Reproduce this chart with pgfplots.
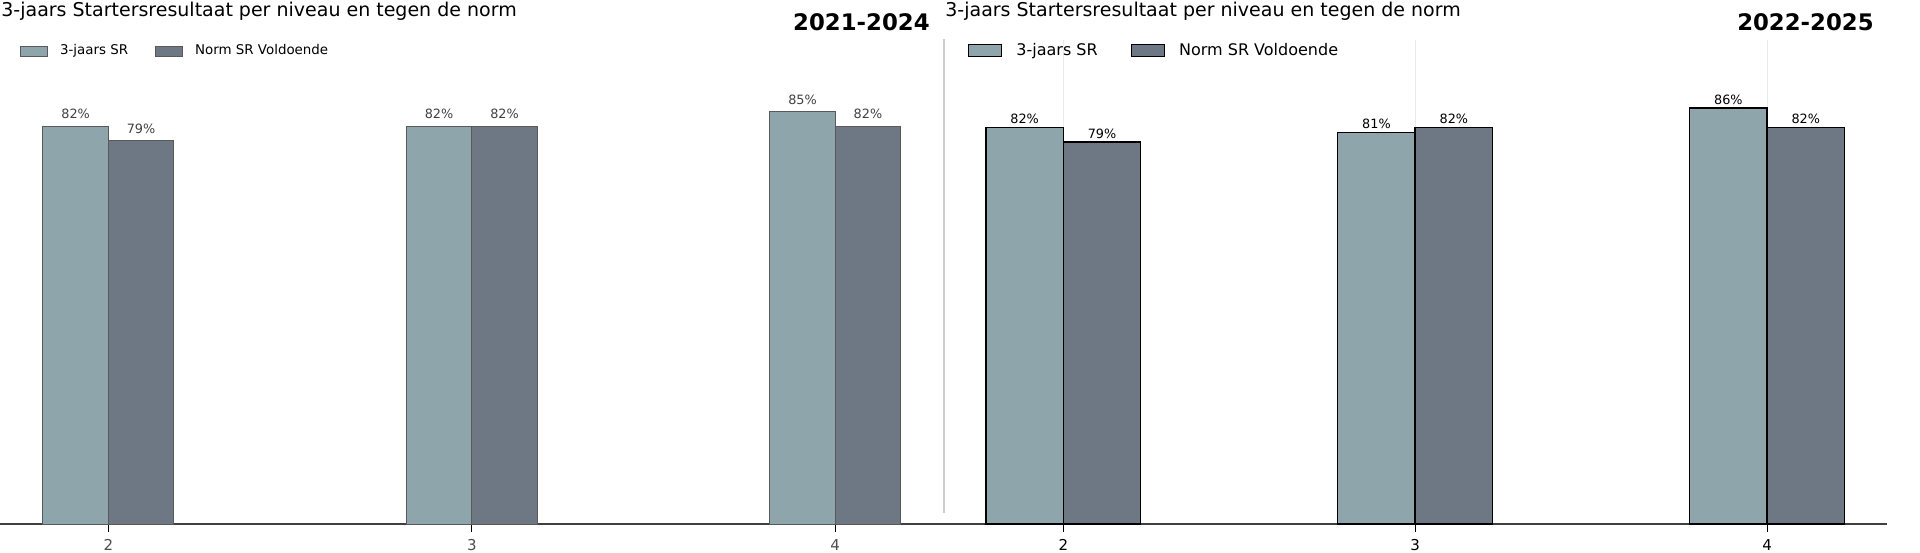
\documentclass[border=0pt]{standalone}
\usepackage{fontspec}
\setmainfont{DejaVu Sans}
\usepackage{pgfplots}
\pgfplotsset{compat=1.18}
\definecolor{srlight}{HTML}{8FA5AC}
\definecolor{srdark}{HTML}{6E7884}
\pgfplotsset{
  legL/.style={legend image code/.code={\draw[##1] (0pt,-2.5pt) rectangle (13.5pt,2.5pt);}},
  legR/.style={legend image code/.code={\draw[##1] (0pt,-3pt) rectangle (16.5pt,3pt);}},
}

\begin{document}
\begin{tikzpicture}
\path[use as bounding box] (0,0) rectangle (960pt,276pt);

\begin{axis}[
  at={(0pt,14pt)}, anchor=south west, scale only axis,
  width=472pt, height=242.5pt,
  xmin=1.702, xmax=4.2993, ymin=0, ymax=100,
  clip=false,
  axis x line*=bottom, axis y line=none,
  ybar, bar width=0.18,
  xtick={2,3,4},
  tick align=outside, major tick length=4pt,
  xtick style={black, line width=0.5pt},
  axis line style={black!75, line width=0.7pt},
  xticklabel style={font=\fontsize{7.5}{9}\selectfont, text=black!70},
  /pgf/number format/assume math mode=true,
  nodes near coords={\pgfmathprintnumber{\pgfplotspointmeta}\%},
  every node near coord/.append style={anchor=center, yshift=6.2pt, font=\fontsize{6.4}{7.7}\selectfont, text=black!75},
  legend style={at={(0.0212,0.9745)}, anchor=west, draw=none, fill=none, inner sep=0pt, outer sep=0pt,
    legend columns=2, font=\fontsize{6.7}{8}\selectfont, text=black, nodes={inner sep=0pt},
    /tikz/every odd column/.append style={column sep=6pt},
    /tikz/every even column/.append style={column sep=13.5pt}},
]
\addplot[fill=srlight, draw=black!65, line width=0.5pt, bar shift=-0.09, legL]
  coordinates {(2,82) (3,82) (4,85)};
\addplot[fill=srdark, draw=black!65, line width=0.5pt, bar shift=0.09, legL]
  coordinates {(2,79) (3,82) (4,82)};
\legend{3-jaars SR, Norm SR Voldoende}
\end{axis}

\begin{axis}[
  at={(472pt,14pt)}, anchor=south west, scale only axis,
  width=471.5pt, height=241.75pt,
  xmin=1.661, xmax=4.341, ymin=0, ymax=100,
  clip=false,
  axis x line*=bottom, axis y line=none,
  ybar, bar width=0.22,
  xtick={2,3,4},
  xmajorgrids, grid style={color=black!8, line width=0.5pt},
  tick align=outside, major tick length=4pt,
  xtick style={black, line width=0.5pt},
  axis line style={black!75, line width=0.7pt},
  xticklabel style={font=\fontsize{7.5}{9}\selectfont, text=black},
  /pgf/number format/assume math mode=true,
  nodes near coords={\pgfmathprintnumber{\pgfplotspointmeta}\%},
  every node near coord/.append style={anchor=center, yshift=4.3pt, font=\fontsize{6.4}{7.7}\selectfont, text=black},
  legend style={at={(0.0255,0.979)}, anchor=west, draw=none, fill=none, inner sep=0pt, outer sep=0pt,
    legend columns=2, font=\fontsize{8}{9.6}\selectfont, text=black, nodes={inner sep=0pt},
    /tikz/every odd column/.append style={column sep=7pt},
    /tikz/every even column/.append style={column sep=16.5pt}},
]
\addplot[fill=srlight, draw=black, line width=0.7pt, bar shift=-0.11, legR]
  coordinates {(2,82) (3,81) (4,86)};
\addplot[fill=srdark, draw=black, line width=0.7pt, bar shift=0.11, legR]
  coordinates {(2,79) (3,82) (4,82)};
\legend{3-jaars SR, Norm SR Voldoende}
\end{axis}

\draw[color=black!20, line width=0.6pt] (472pt,19.5pt) -- (472pt,256.5pt);

\node[anchor=base west, inner sep=0pt, font=\fontsize{9.5}{11}\selectfont] at (0.5pt,267.8pt) {3-jaars Startersresultaat per niveau en tegen de norm};
\node[anchor=base east, inner sep=0pt, font=\fontsize{11.4}{13.5}\selectfont\bfseries] at (465pt,260.8pt) {2021-2024};
\node[anchor=base west, inner sep=0pt, font=\fontsize{9.5}{11}\selectfont] at (472.5pt,267.9pt) {3-jaars Startersresultaat per niveau en tegen de norm};
\node[anchor=base east, inner sep=0pt, font=\fontsize{11.4}{13.5}\selectfont\bfseries] at (937pt,260.8pt) {2022-2025};
\end{tikzpicture}
\end{document}
